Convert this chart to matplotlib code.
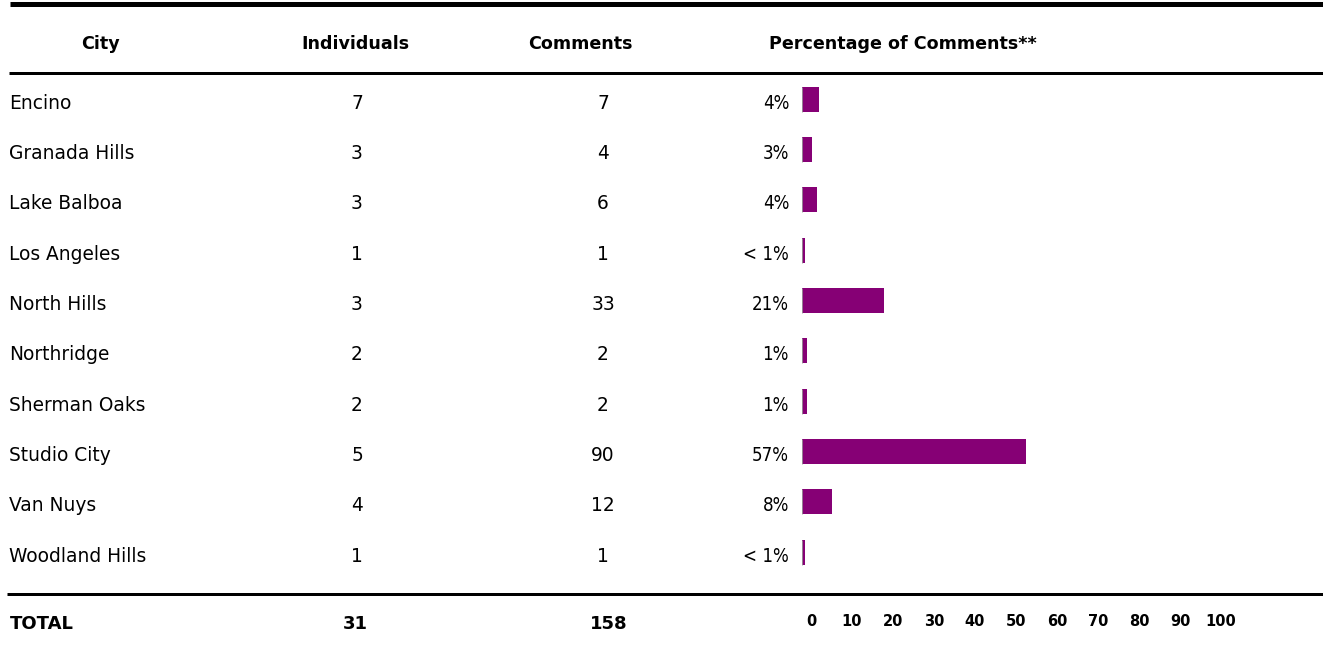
import matplotlib
matplotlib.use("Agg")
import matplotlib.pyplot as plt
from matplotlib import transforms
from matplotlib.lines import Line2D

# ---------------- data ----------------
cities = ["Encino", "Granada Hills", "Lake Balboa", "Los Angeles", "North Hills",
          "Northridge", "Sherman Oaks", "Studio City", "Van Nuys", "Woodland Hills"]
individuals = [7, 3, 3, 1, 3, 2, 2, 5, 4, 1]
comments = [7, 4, 6, 1, 33, 2, 2, 90, 12, 1]
pct_values = [4.4, 2.5, 3.8, 0.7, 20.9, 1.3, 1.3, 57.0, 7.6, 0.7]
pct_labels = ["4%", "3%", "4%", "< 1%", "21%", "1%", "1%", "57%", "8%", "< 1%"]
headers = ["City", "Individuals", "Comments", "Percentage of Comments**"]
total_label = "TOTAL"
total_individuals = 31
total_comments = 158
scale_ticks = [0, 10, 20, 30, 40, 50, 60, 70, 80, 90, 100]

plt.rcParams["font.family"] = ["DejaVu Sans"]

W, H = 1323, 649
fig = plt.figure(figsize=(W / 100, H / 100), dpi=100)
fig.patch.set_facecolor("white")

def fx(px):
    return px / W

def fy(py):
    return 1 - py / H

# ---------------- bar axes ----------------
row_top = 99.2
row_step = 50.33
n = len(cities)
ax_top = row_top - row_step / 2
ax_h = row_step * n
bar_left = 802
px_per_unit = 3.93
ax = fig.add_axes([fx(bar_left), fy(ax_top + ax_h), fx(100 * px_per_unit), ax_h / H])
ax.set_xlim(0, 100)
ax.set_ylim(n - 0.5, -0.5)
ax.axis("off")
ypos = list(range(n))
bar_color = "#860075"
ax.barh(ypos, pct_values, height=0.5, color=bar_color, left=0, zorder=2)
ax.vlines([0] * n, [y - 0.25 for y in ypos], [y + 0.25 for y in ypos],
          color="#9a9a9a", lw=0.6, zorder=3)

# row text: x in figure fraction, y in data (shifted down 4 px)
blend = transforms.blended_transform_factory(fig.transFigure, ax.transData)
tr = transforms.offset_copy(blend, fig=fig, x=0, y=-4, units="dots")
fs = 13.4
for i in range(n):
    ax.text(fx(9), i, cities[i], transform=tr, ha="left", va="center", fontsize=fs,
            clip_on=False)
    ax.text(fx(357), i, str(individuals[i]), transform=tr, ha="center", va="center",
            fontsize=fs, clip_on=False)
    ax.text(fx(603), i, str(comments[i]), transform=tr, ha="center", va="center",
            fontsize=fs, clip_on=False)
    ax.text(fx(789), i, pct_labels[i], transform=tr, ha="right", va="center",
            fontsize=fs, fontstretch="condensed", clip_on=False)

# ---------------- headers ----------------
hy = fy(44)
hfs = 12.6
fig.text(fx(100), hy, headers[0], ha="center", va="center", fontsize=hfs, fontweight="bold")
fig.text(fx(355), hy, headers[1], ha="center", va="center", fontsize=hfs, fontweight="bold")
fig.text(fx(580), hy, headers[2], ha="center", va="center", fontsize=hfs, fontweight="bold")
fig.text(fx(769), hy, headers[3], ha="left", va="center", fontsize=hfs, fontweight="bold")

# ---------------- totals ----------------
ty = fy(624)
tfs = 13.0
fig.text(fx(10), ty, total_label, ha="left", va="center", fontsize=tfs, fontweight="bold")
fig.text(fx(355), ty, str(total_individuals), ha="center", va="center", fontsize=tfs,
         fontweight="bold")
fig.text(fx(609), ty, str(total_comments), ha="center", va="center", fontsize=tfs,
         fontweight="bold")

# ---------------- scale labels ----------------
ax_scale = fig.add_axes([fx(811), fy(634), fx(410), 26 / H])
ax_scale.set_xlim(0, 100)
ax_scale.set_ylim(0, 1)
ax_scale.axis("off")
for t in scale_ticks:
    ax_scale.text(t, 0.5, str(t), ha="center", va="center", fontsize=10.5,
                  fontweight="bold")

# ---------------- rules ----------------
def hline(py, xstart, lw_px):
    fig.add_artist(Line2D([fx(xstart), 1.0], [fy(py), fy(py)], color="black",
                          lw=lw_px * 72 / 100, solid_capstyle="butt"))

hline(3.5, 10, 5)
hline(73.3, 9, 3)
hline(594.3, 7, 3)

fig.savefig("out.png", dpi=100, facecolor="white")
